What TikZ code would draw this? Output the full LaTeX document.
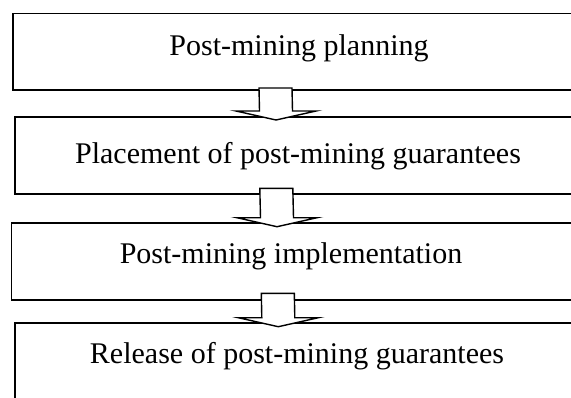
\documentclass[tikz,border=0pt]{standalone}
\usepackage{fontspec}
\setmainfont{Liberation Serif}
\usetikzlibrary{calc}
\tikzset{
  box/.style={draw=black, line width=0.7pt, fill=none, inner sep=0pt, outer sep=0pt, anchor=north west},
  label/.style={font=\fontsize{15pt}{18pt}\selectfont, anchor=base, inner sep=0pt},
  barrow/.style={draw=black, fill=white, line width=0.7pt, line join=miter}
}
\newcommand{\blockarr}[2]{%
  \draw[barrow] ($(#1)+(-16.5,0)$) -- ($(#1)+(16.5,0)$) -- ($(#2)+(16.5,-9)$) -- ($(#2)+(40,-9)$) -- (#2) -- ($(#2)+(-40,-9)$) -- ($(#2)+(-16.5,-9)$) -- cycle;}
\begin{document}
\begin{tikzpicture}[x=0.5pt, y=-0.5pt]
\useasboundingbox (0,0) rectangle (571,397);
\fill[white] (0,0) rectangle (571,397);
\clip (0,0) rectangle (571,397);
\node[box, minimum width=293.5pt, minimum height=38.15pt] (b1) at (13,13.7) {};
\node[box, minimum width=292.5pt, minimum height=38.5pt] (b2) at (15,117) {};
\node[box, minimum width=294.35pt, minimum height=38.5pt] (b3) at (11.3,223) {};
\node[box, minimum width=292.5pt, minimum height=48.5pt] (b4) at (15,323) {};
\node[label] (t1) at (299,55) {Post-mining planning};
\node[label] (t2) at (298,163.3) {Placement of post-mining guarantees};
\node[label] (t3) at (291,263.3) {Post-mining implementation};
\node[label] (t4) at (297,363.3) {Release of post-mining guarantees};
\coordinate (a1s) at (275.5,88);
\coordinate (a1t) at (276,120);
\coordinate (a2s) at (276.3,188.3);
\coordinate (a2t) at (277,226.7);
\coordinate (a3s) at (277.8,293.3);
\coordinate (a3t) at (278.3,326.7);
\blockarr{a1s}{a1t}
\blockarr{a2s}{a2t}
\blockarr{a3s}{a3t}
\end{tikzpicture}
\end{document}
